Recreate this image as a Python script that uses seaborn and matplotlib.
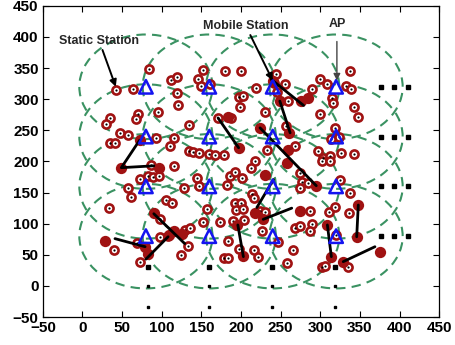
import matplotlib
matplotlib.use("Agg")
import matplotlib.pyplot as plt
from matplotlib.patches import Circle
import pandas as pd
import seaborn as sns

# --- data ------------------------------------------------------------------
ap_cols = [80, 160, 240, 320]
ap_rows = [80, 160, 240, 320]
cover_radius = 84

static_x = [84, 64, 42, 112, 119, 119, 121, 152, 146, 150, 161, 180, 200, 197, 203,
            199, 219, 244, 242, 245, 255, 259, 289, 300, 309, 337, 333, 339, 315, 316,
            343, 348, 300, 230, 95, 70, 67, 35, 30, 171, 188,
            135, 47, 58, 35, 41, 93, 115, 111, 135, 140, 147, 160, 167, 178, 257,
            268, 233, 297, 303, 312, 326, 342, 319, 324, 314, 218, 212,
            115, 87, 72, 83, 89, 96, 57, 61, 34, 105, 113, 128, 144, 147, 157, 182,
            186, 201, 192, 275, 277, 285, 275, 302, 312, 214, 216, 192, 200, 194,
            203, 224, 230, 287, 311, 319, 325, 338, 336,
            98, 152, 173, 190, 204, 226, 268, 275, 290, 287, 98, 108, 129, 136, 133,
            124, 69, 40, 73, 184, 197, 179, 184, 216, 222, 247, 266, 258, 302, 306,
            320, 335]
static_y = [348, 316, 315, 331, 336, 310, 290, 347, 333, 322, 324, 345, 346, 304, 305,
            287, 318, 340, 326, 311, 324, 297, 316, 332, 324, 346, 322, 317, 302, 294,
            287, 271, 277, 280, 280, 277, 268, 270, 260, 270, 270,
            258, 246, 243, 230, 229, 238, 237, 225, 217, 216, 213, 212, 210, 211, 257,
            225, 218, 217, 206, 208, 213, 212, 254, 240, 236, 200, 190,
            193, 195, 172, 176, 175, 177, 157, 143, 126, 138, 134, 158, 173, 160, 124, 162,
            176, 174, 183, 182, 167, 166, 158, 200, 200, 147, 141, 133, 133, 122,
            123, 120, 118, 120, 119, 127, 171, 150, 117,
            107, 103, 102, 104, 106, 88, 93, 97, 100, 88, 78, 80, 90, 93, 64,
            49, 69, 57, 39, 72, 59, 45, 45, 58, 47, 71, 58, 37, 31, 32,
            82, 30]

mobile_x = [72, 49, 97, 29, 79, 83, 109, 90, 115, 126, 184, 197, 224, 295, 259, 258,
            249, 260, 241, 276, 285, 230, 218, 228, 274, 195, 203, 309, 313, 348,
            346, 376, 329]
mobile_y = [234, 190, 189, 72, 62, 52, 82, 117, 88, 83, 271, 222, 254, 161, 219, 198,
            297, 246, 329, 297, 302, 179, 117, 107, 120, 98, 48, 98, 47, 130,
            79, 55, 39]

# movement paths of the mobile stations (one id per path)
path_id = [1, 1, 1, 2, 2, 3, 3, 4, 4, 5, 5, 6, 6, 7, 7, 8, 8, 9, 9, 10, 10,
           11, 11, 12, 12, 13, 13, 14, 14]
path_x = [72, 49, 90, 41, 79, 80, 108, 90, 129, 171, 197, 224, 295, 249, 262,
          238, 279, 241, 220, 228, 264, 196, 203, 309, 314, 348, 346, 369, 329]
path_y = [234, 190, 193, 76, 63, 43, 79, 116, 68, 270, 222, 254, 161, 297, 246,
          332, 290, 171, 126, 107, 125, 98, 47, 98, 47, 130, 79, 63, 39]

right_dots_x = [377, 393, 411]
below_dots_y = [30, 0, -34]
below_dots_x = [83, 159, 239, 319]

RED = "#a01212"
GREEN = "#3a9262"

sns.set_theme(style="ticks")
plt.rcParams["font.family"] = ["Liberation Sans", "DejaVu Sans"]

fig = plt.figure(figsize=(4.56, 3.45), dpi=100)
ax = fig.add_axes([0.094, 0.081, 0.869, 0.902])

# coverage circles around every AP
for cy in ap_rows:
    for cx in ap_cols:
        ax.add_patch(Circle((cx, cy), cover_radius, fill=False, ec=GREEN,
                            lw=1.5, ls=(0, (4.5, 3)), zorder=1))

aps = pd.DataFrame([(x, y) for y in ap_rows for x in ap_cols], columns=["x", "y"])
paths = pd.DataFrame({"id": path_id, "x": path_x, "y": path_y})

# static stations: red ring, white inside, black centre dot
sns.scatterplot(x=static_x, y=static_y, ax=ax, marker="o", s=34, color="white",
                edgecolor=RED, linewidth=1.9, zorder=3)
sns.scatterplot(x=static_x, y=static_y, ax=ax, marker="o", s=2.5, color="black",
                linewidth=0, zorder=4)

# mobile stations and their tracks
sns.lineplot(data=paths, x="x", y="y", units="id", estimator=None, sort=False,
             color="black", lw=2, ax=ax, zorder=5)
sns.scatterplot(x=mobile_x, y=mobile_y, ax=ax, marker="o", s=66, color=RED,
                linewidth=0, zorder=4)

# access points
sns.scatterplot(data=aps, x="x", y="y", ax=ax, marker="^", s=95, facecolor="none",
                edgecolor="#1414f0", linewidth=1.8, zorder=6)

# "..." continuation markers
for ry in ap_rows:
    ax.plot(right_dots_x, [ry] * 3, ls="none", marker="s", ms=3, color="black", zorder=2)
for bx in below_dots_x:
    for by, ms in zip(below_dots_y, [2.6, 2.1, 1.8]):
        ax.plot([bx], [by], ls="none", marker="s", ms=ms, color="black", zorder=2)

# labels with arrows
arr = dict(arrowstyle="-|>", color="black", lw=1.4, mutation_scale=10, shrinkA=0, shrinkB=0)
ax.annotate("Static Station", xy=(42, 320), xytext=(21, 394), ha="center", va="center",
            fontsize=9, fontweight="bold", arrowprops=arr, zorder=7)
ax.annotate("Mobile Station", xy=(240, 330), xytext=(206, 418), ha="center", va="center",
            fontsize=9, fontweight="bold", arrowprops=arr, zorder=7)
ax.annotate("AP", xy=(321, 330), xytext=(321, 421), ha="center", va="center",
            fontsize=9, fontweight="bold",
            arrowprops=dict(arrowstyle="-|>", color="#444444", lw=1.0, mutation_scale=10,
                            shrinkA=6, shrinkB=0), zorder=7)

ax.set_xlim(-50, 450)
ax.set_ylim(-50, 450)
ax.set_xticks(range(-50, 451, 50))
ax.set_yticks(range(-50, 451, 50))
ax.set_xlabel("")
ax.set_ylabel("")
ax.tick_params(direction="in", top=True, right=True, length=4, width=0.8,
               labelsize=11, colors="black", pad=3)
for lab in ax.get_xticklabels() + ax.get_yticklabels():
    lab.set_fontweight("bold")
for sp in ax.spines.values():
    sp.set_visible(True)
    sp.set_color("black")
    sp.set_linewidth(0.9)

fig.savefig("out.png", dpi=100, facecolor="white")
